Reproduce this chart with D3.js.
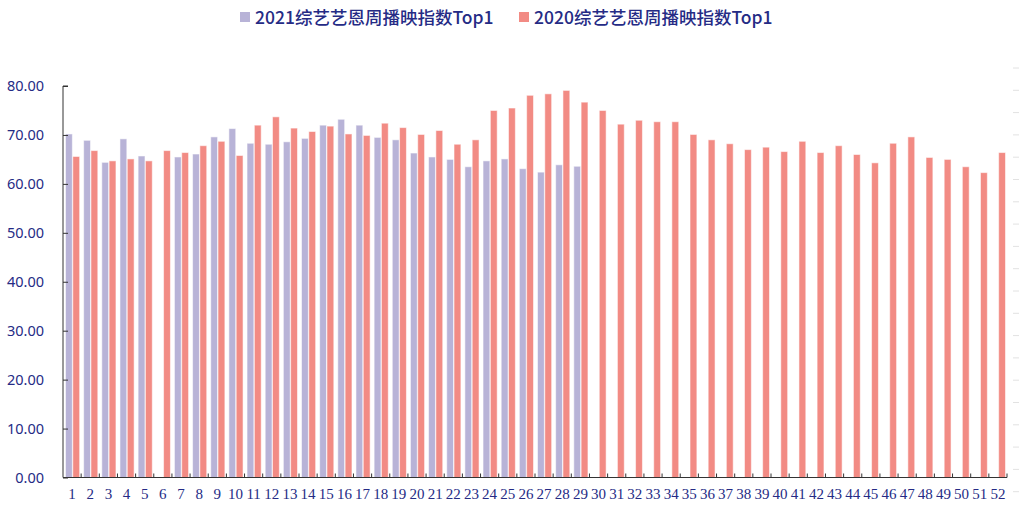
<!DOCTYPE html>
<html>
<head>
<meta charset="utf-8">
<script src="https://cdn.jsdelivr.net/npm/d3@7"></script>
<style>
  body { margin: 0; background: #fff; }
</style>
</head>
<body>
<div class="canvas"></div>
<script>
// week numbers 1..52
const weeks = ['1','2','3','4','5','6','7','8','9','10','11','12','13','14','15','16','17','18','19','20',
  '21','22','23','24','25','26','27','28','29','30','31','32','33','34','35','36','37','38','39','40',
  '41','42','43','44','45','46','47','48','49','50','51','52'];

// 2021 only goes to week 29, week 6 missing
const values2021 = [70.2, 68.9, 64.4, 69.2, 65.7, null, 65.5, 66.1, 69.6, 71.3,
  68.3, 68.1, 68.6, 69.3, 72.0, 73.2, 72.0, 69.5, 69.0, 66.3,
  65.5, 65.0, 63.5, 64.7, 65.1, 63.1, 62.4, 63.9, 63.6];

const values2020 = [65.6, 66.8, 64.7, 65.1, 64.7, 66.8, 66.4, 67.8, 68.7, 65.8,
  72.0, 73.7, 71.4, 70.7, 71.8, 70.2, 69.9, 72.4, 71.5, 70.1,
  70.9, 68.1, 69.0, 75.0, 75.5, 78.1, 78.4, 79.1, 76.7, 75.0,
  72.2, 73.0, 72.7, 72.7, 70.1, 69.0, 68.2, 67.0, 67.5, 66.6,
  68.7, 66.4, 67.8, 66.0, 64.3, 68.3, 69.6, 65.4, 65.0, 63.5,
  62.3, 66.4];

const yTicks = [0, 10, 20, 30, 40, 50, 60, 70, 80];
const seriesNames = ['2021综艺艺恩周播映指数Top1', '2020综艺艺恩周播映指数Top1'];
const colors = ['#b8b3d7', '#f28b84'];
const navy = '#252b85';

const svg = d3.select('.canvas').append('svg')
  .attr('width', 1019)
  .attr('height', 510);

const plot = { left: 63, right: 1007, top: 86, bottom: 477.5 };

const x = d3.scaleBand().domain(weeks).range([plot.left, plot.right]);
const sub = d3.scaleBand().domain(['2021', '2020']).range([2.5, x.bandwidth() - 1.5]).paddingInner(0.06);
const y = d3.scaleLinear().domain([0, 80]).range([plot.bottom, plot.top]);

// bars
const groups = [
  { key: '2021', data: values2021, color: colors[0] },
  { key: '2020', data: values2020, color: colors[1] }
];

groups.forEach(g => {
  svg.append('g').selectAll('rect')
    .data(g.data.map((v, i) => ({ week: weeks[i], v })).filter(d => d.v != null))
    .join('rect')
    .attr('x', d => x(d.week) + sub(g.key))
    .attr('y', d => y(d.v))
    .attr('width', sub.bandwidth())
    .attr('height', d => y(0) - y(d.v))
    .attr('fill', g.color)
    .attr('stroke', '#fff')
    .attr('stroke-opacity', 0.55)
    .attr('stroke-width', 1);
});

// y axis, ticks point inward
const yAxis = svg.append('g')
  .attr('transform', `translate(${plot.left},0)`)
  .call(d3.axisRight(y).tickValues(yTicks).tickSize(5).tickFormat(''));
yAxis.select('.domain').attr('stroke', '#333').attr('d', `M5,${plot.top}H0V${plot.bottom}`);
yAxis.selectAll('line').attr('stroke', '#333');

svg.append('g').selectAll('text')
  .data(yTicks)
  .join('text')
  .attr('x', 44)
  .attr('y', d => y(d))
  .attr('dy', '0.35em')
  .attr('text-anchor', 'end')
  .attr('fill', navy)
  .style('font-family', '"Noto Sans", sans-serif')
  .style('font-size', '14.5px')
  .text(d => d.toFixed(2));

// x axis: ticks on category boundaries, pointing up
const xAxis = svg.append('g');
xAxis.append('line')
  .attr('x1', plot.left).attr('x2', plot.right)
  .attr('y1', plot.bottom).attr('y2', plot.bottom)
  .attr('stroke', '#333');
xAxis.selectAll('.bt')
  .data(weeks)
  .join('line')
  .attr('class', 'bt')
  .attr('x1', d => x(d) + x.bandwidth()).attr('x2', d => x(d) + x.bandwidth())
  .attr('y1', plot.bottom).attr('y2', plot.bottom - 4)
  .attr('stroke', '#333');
xAxis.selectAll('text')
  .data(weeks)
  .join('text')
  .attr('x', d => x(d) + x.bandwidth() / 2)
  .attr('y', 499)
  .attr('text-anchor', 'middle')
  .attr('fill', navy)
  .style('font-family', '"Liberation Serif", serif')
  .style('font-size', '15px')
  .text(d => d);

// faint ticks at the right edge (cut-off second axis)
svg.append('g').selectAll('line')
  .data(d3.range(20))
  .join('line')
  .attr('x1', 1013).attr('x2', 1019)
  .attr('y1', d => 68 + d * 22.3).attr('y2', d => 68 + d * 22.3)
  .attr('stroke', '#e2e2e2');

// legend
const legendX = [240, 519];
seriesNames.forEach((name, i) => {
  svg.append('rect')
    .attr('x', legendX[i]).attr('y', 12)
    .attr('width', 10).attr('height', 10)
    .attr('fill', colors[i]);
  svg.append('text')
    .attr('x', legendX[i] + 15)
    .attr('y', 24)
    .attr('fill', navy)
    .style('font-family', '"Noto Sans CJK SC", sans-serif')
    .style('font-size', '17.5px')
    .style('font-weight', 500)
    .text(name);
});
</script>
</body>
</html>
